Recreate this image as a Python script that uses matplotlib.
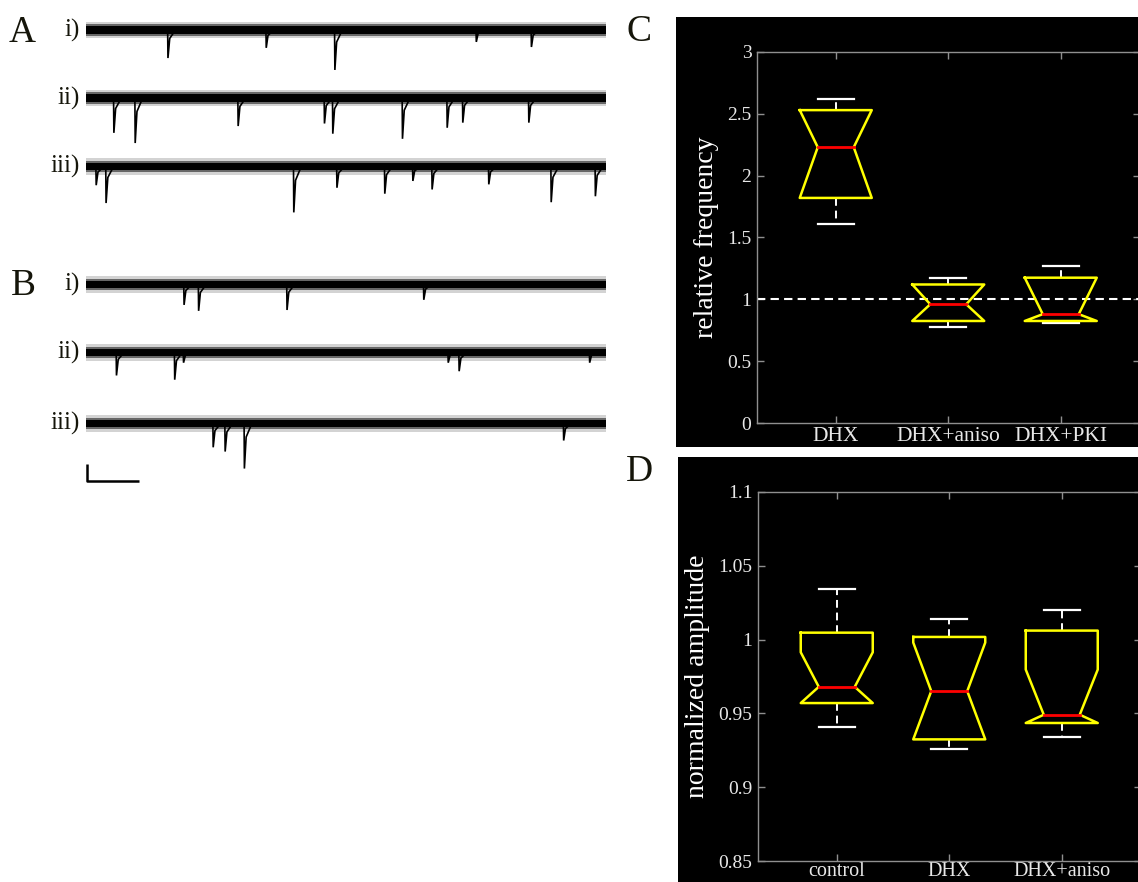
import matplotlib
matplotlib.use("Agg")
import matplotlib.pyplot as plt
from matplotlib.patches import Rectangle

plt.rcParams['font.family'] = ['Liberation Serif', 'DejaVu Serif']

# ---------------- data ----------------
trace_rows = ["A i)", "A ii)", "A iii)", "B i)", "B ii)", "B iii)"]
row_labels = ["i)", "ii)", "iii)", "i)", "ii)", "iii)"]
trace_duration_s = 10.0
noise_core_pA = 4.5
noise_mid_pA = 7.0
noise_peak_pA = 9.5

# event times (s) and amplitudes (pA)
ev_t_Ai = [1.57, 3.46, 4.78, 7.50, 8.56]
ev_a_Ai = [33, 21, 47, 14, 20]
ev_t_Aii = [0.53, 0.94, 2.92, 4.58, 4.74, 6.08, 6.94, 7.24, 8.51]
ev_a_Aii = [41, 53, 33, 30, 42, 48, 35, 29, 29]
ev_t_Aiii = [0.19, 0.38, 3.99, 4.82, 5.74, 6.28, 6.65, 7.74, 8.94, 9.79]
ev_a_Aiii = [22, 43, 54, 25, 32, 17, 27, 21, 42, 35]
ev_t_Bi = [1.88, 2.16, 3.86, 6.49]
ev_a_Bi = [24, 31, 30, 18]
ev_t_Bii = [0.58, 1.70, 1.87, 6.96, 7.17, 9.68]
ev_a_Bii = [27, 32, 12, 12, 22, 12]
ev_t_Biii = [2.44, 2.67, 3.04, 9.18]
ev_a_Biii = [28, 33, 53, 20]
scalebar_s = 1.0
scalebar_pA = 20.0

# panel C: relative frequency
c_cats = ["DHX", "DHX+aniso", "DHX+PKI"]
c_wlo = [1.61, 0.78, 0.805]
c_q1 = [1.82, 0.825, 0.825]
c_med = [2.23, 0.96, 0.88]
c_q3 = [2.53, 1.12, 1.175]
c_whi = [2.62, 1.17, 1.27]
c_nlo = [1.82, 0.825, 0.825]
c_nhi = [2.53, 1.12, 1.175]
c_ref = 1.0
c_yticks = [0, 0.5, 1, 1.5, 2, 2.5, 3]
c_yticklabels = ["0", "0.5", "1", "1.5", "2", "2.5", "3"]

# panel D: normalized amplitude
d_cats = ["control", "DHX", "DHX+aniso"]
d_wlo = [0.9407, 0.926, 0.9343]
d_q1 = [0.957, 0.9324, 0.9435]
d_med = [0.968, 0.9651, 0.9491]
d_q3 = [1.0047, 1.0018, 1.0061]
d_whi = [1.0343, 1.0142, 1.0198]
d_nlo = [0.957, 0.9324, 0.9435]
d_nhi = [0.9914, 0.998, 0.9797]
d_yticks = [0.85, 0.9, 0.95, 1.0, 1.05, 1.1]
d_yticklabels = ["0.85", "0.9", "0.95", "1", "1.05", "1.1"]

# ---------------- figure ----------------
W, H = 1138, 882
fig = plt.figure(figsize=(W / 100, H / 100), dpi=100)
fig.patch.set_facecolor('white')

def fx(px):
    return px / W

def fy(py):
    return 1 - py / H

# ---------- traces (A, B) ----------
k = 20.0 / 17.0  # pA per pixel
ax_tr = fig.add_axes([fx(86), fy(490), 520 / W, 490 / H])
ax_tr.set_xlim(0, trace_duration_s)
ax_tr.set_ylim(-490 * k, 0)
ax_tr.axis('off')

row_base_px = [30, 98, 166.5, 284.5, 352.5, 423.5]
events = [(ev_t_Ai, ev_a_Ai), (ev_t_Aii, ev_a_Aii), (ev_t_Aiii, ev_a_Aiii),
          (ev_t_Bi, ev_a_Bi), (ev_t_Bii, ev_a_Bii), (ev_t_Biii, ev_a_Biii)]

for base_px, (ts, amps) in zip(row_base_px, events):
    y0 = -base_px * k
    ax_tr.fill_between([0, trace_duration_s], y0 - noise_peak_pA, y0 + noise_peak_pA,
                       color='#505050', alpha=0.25, lw=0)
    ax_tr.fill_between([0, trace_duration_s], y0 - noise_mid_pA, y0 + noise_mid_pA,
                       color='#202020', alpha=0.6, lw=0)
    ax_tr.fill_between([0, trace_duration_s], y0 - noise_core_pA, y0 + noise_core_pA,
                       color='black', lw=0)
    for t, a in zip(ts, amps):
        xs = [t, t + 0.006, t + 0.04, t + 0.15]
        ys = [y0, y0 - a, y0 - 0.3 * a, y0]
        ax_tr.plot(xs, ys, color='black', lw=1.2, solid_joinstyle='miter')

# scale bar
sb_x0 = 0.02
sb_y0 = -481 * k
ax_tr.plot([sb_x0, sb_x0, sb_x0 + scalebar_s], [sb_y0 + scalebar_pA, sb_y0, sb_y0],
           color='black', lw=1.8, solid_capstyle='butt', clip_on=False)

lab_color = '#15150a'
for lab, base_px in zip(row_labels, row_base_px):
    fig.text(fx(80), fy(base_px), lab, ha='right', va='center', fontsize=18, color=lab_color)

fig.text(fx(9), fy(33), "A", ha='left', va='center', fontsize=27, color=lab_color)
fig.text(fx(11), fy(286), "B", ha='left', va='center', fontsize=27, color=lab_color)
fig.text(fx(626), fy(32), "C", ha='left', va='center', fontsize=27, color=lab_color)
fig.text(fx(626), fy(472), "D", ha='left', va='center', fontsize=27, color=lab_color)

# ---------- box plot panels ----------
fig.add_artist(Rectangle((fx(676), fy(447)), (1160 - 676) / W, 430 / H,
                         transform=fig.transFigure, facecolor='black', edgecolor='none', zorder=0))
fig.add_artist(Rectangle((fx(678), -0.01), (1160 - 678) / W, (882 - 457) / H + 0.01,
                         transform=fig.transFigure, facecolor='black', edgecolor='none', zorder=0))

spine_c = '#8f8f8f'
text_c = '#e8e8e8'


def notched(ax, pos, wlo, q1, med, q3, whi, nlo, nhi, w=0.32, nw=0.16, cw=0.16):
    nhi = min(nhi, q3)
    nlo = max(nlo, q1)
    xs = [pos - w, pos + w, pos + w, pos + nw, pos + w, pos + w, pos - w, pos - w, pos - nw, pos - w, pos - w]
    ys = [q3, q3, nhi, med, nlo, q1, q1, nlo, med, nhi, q3]
    ax.plot(xs, ys, color='#ffff00', lw=1.8, zorder=4)
    ax.plot([pos - nw, pos + nw], [med, med], color='#ff0000', lw=2.0, zorder=5)
    ax.plot([pos, pos], [q3, whi], color='white', lw=1.4, ls=(0, (4, 2.5)), zorder=3)
    ax.plot([pos, pos], [q1, wlo], color='white', lw=1.4, ls=(0, (4, 2.5)), zorder=3)
    ax.plot([pos - cw, pos + cw], [whi, whi], color='white', lw=1.6, zorder=3)
    ax.plot([pos - cw, pos + cw], [wlo, wlo], color='white', lw=1.6, zorder=3)


def style(ax, cats, yticks, ylabels, ylabel, xsize, xpad):
    ax.set_facecolor('black')
    ax.set_xlim(0.3, 3.7)
    ax.set_xticks([1, 2, 3])
    ax.set_xticklabels(cats)
    ax.set_yticks(yticks)
    ax.set_yticklabels(ylabels)
    for s in ax.spines.values():
        s.set_color(spine_c)
        s.set_linewidth(1.0)
    ax.tick_params(axis='both', direction='in', color=spine_c, length=5, width=1.0,
                   labelsize=14, labelcolor=text_c, top=True, right=True)
    ax.tick_params(axis='x', pad=xpad, labelsize=xsize)
    ax.tick_params(axis='y', pad=4)
    ax.set_ylabel(ylabel, color='white', fontsize=20, labelpad=6)


axC = fig.add_axes([fx(757), fy(423), 382.5 / W, 371 / H])
axC.set_ylim(0, 3)
axC.axhline(c_ref, color='white', lw=1.5, ls=(0, (4, 2.5)), zorder=2)
for i in range(3):
    notched(axC, i + 1, c_wlo[i], c_q1[i], c_med[i], c_q3[i], c_whi[i], c_nlo[i], c_nhi[i])
style(axC, c_cats, c_yticks, c_yticklabels, "relative frequency", 15.5, 3)

axD = fig.add_axes([fx(758), fy(861), 382.5 / W, 369 / H])
axD.set_ylim(0.85, 1.1)
for i in range(3):
    notched(axD, i + 1, d_wlo[i], d_q1[i], d_med[i], d_q3[i], d_whi[i], d_nlo[i], d_nhi[i])
style(axD, d_cats, d_yticks, d_yticklabels, "normalized amplitude", 14.5, 0.5)

fig.savefig("out.png", dpi=100, facecolor='white')
